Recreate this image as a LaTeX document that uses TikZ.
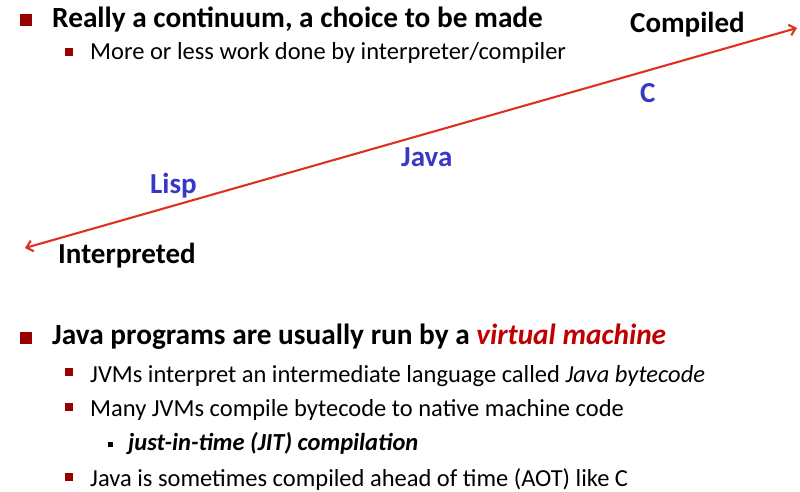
\documentclass[tikz,border=0pt]{standalone}
\usepackage{fontspec}
\setmainfont{Carlito}
\usetikzlibrary{arrows.meta}
\definecolor{bulred}{HTML}{990000}
\definecolor{vmred}{HTML}{C00000}
\definecolor{langblue}{HTML}{3838C8}
\definecolor{arrred}{HTML}{E0301E}
\begin{document}
\begin{tikzpicture}[x=1pt,y=-1pt,
  bigbul/.style={fill=bulred,draw=none,minimum size=11.5pt,inner sep=0pt},
  smallbul/.style={fill=bulred,draw=none,minimum size=7.5pt,inner sep=0pt},
  tinybul/.style={fill=black,draw=none,minimum size=5pt,inner sep=0pt},
  head/.style={anchor=base west,inner sep=0pt,font=\fontsize{29.3}{34}\selectfont\bfseries},
  sub/.style={anchor=base west,inner sep=0pt,font=\fontsize{24.5}{29}\selectfont},
  lang/.style={anchor=base west,inner sep=0pt,font=\fontsize{29}{34}\selectfont\bfseries,text=langblue},
  endlabel/.style={anchor=base west,inner sep=0pt,font=\fontsize{29}{34}\selectfont\bfseries},
  scaleline/.style={draw=arrred,line width=2.1pt,{Straight Barb[length=6pt,width=11pt]}-{Straight Barb[length=6pt,width=11pt]}}]
\useasboundingbox (0,0) rectangle (800,492);
\fill[white] (0,0) rectangle (800,492);
% first block
\node[bigbul] (b1) at (26,20) {};
\node[head] (h1) at (52,28) {Really a continuum, a choice to be made};
\node[smallbul] (s1) at (69,52) {};
\node[sub] (t1) at (90,60) {More or less work done by interpreter/compiler};
% continuum
\coordinate (lo) at (25,248);
\coordinate (hi) at (797,28);
\draw[scaleline] (lo) -- (hi);
\node[endlabel] (comp) at (630,33) {Compiled};
\node[endlabel] (interp) at (58,263) {Interpreted};
\node[lang] (c) at (640,103) {C};
\node[lang] (java) at (401,166) {Java};
\node[lang] (lisp) at (150,193) {Lisp};
% second block
\node[bigbul] (b2) at (26,338) {};
\node[head] (h2) at (52,344) {Java programs are usually run by a \textcolor{vmred}{\itshape virtual machine}};
\node[smallbul] (s2) at (69,372) {};
\node[sub] (t2) at (90,382) {JVMs interpret an intermediate language called \textit{Java bytecode}};
\node[smallbul] (s3) at (69,407) {};
\node[sub] (t3) at (90,416) {Many JVMs compile bytecode to native machine code};
\node[tinybul] (s4) at (110,444) {};
\node[sub] (t4) at (128,450) {\bfseries\itshape just-in-time (JIT) compilation};
\node[smallbul] (s5) at (69,477) {};
\node[sub] (t5) at (90,486) {Java is sometimes compiled ahead of time (AOT) like C};
\end{tikzpicture}
\end{document}
